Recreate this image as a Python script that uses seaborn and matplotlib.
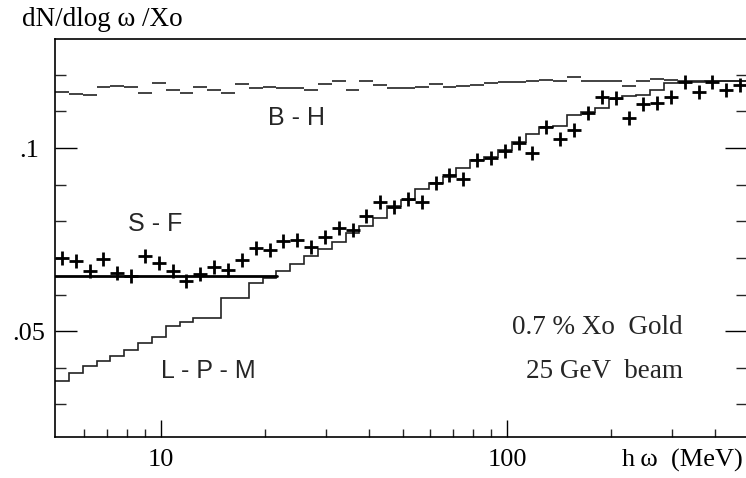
import numpy as np
import matplotlib
matplotlib.use("Agg")
import matplotlib.pyplot as plt
import matplotlib.ticker as mticker
import seaborn as sns

# ---------------- data ----------------
# 50 equal log-width photon-energy bins (MeV) spanning the axis
e_lo, e_hi, n_bins = 4.94, 494.0, 50

data_vals = [0.0699, 0.0691, 0.0664, 0.0696, 0.0658, 0.0651, 0.0705, 0.0687, 0.0665, 0.0637,
             0.0655, 0.0676, 0.0667, 0.0694, 0.0726, 0.0721, 0.0747, 0.0749, 0.0729, 0.0758,
             0.0782, 0.0776, 0.0814, 0.0853, 0.0838, 0.0860, 0.0853, 0.0905, 0.0926, 0.0917,
             0.0968, 0.0972, 0.0993, 0.1014, 0.0987, 0.1058, 0.1025, 0.1049, 0.1096, 0.1140,
             0.1136, 0.1081, 0.1120, 0.1122, 0.1139, 0.1181, 0.1154, 0.1181, 0.1158, 0.1172]

lpm_vals = [0.0363, 0.0386, 0.0404, 0.0419, 0.0431, 0.0449, 0.0467, 0.0483, 0.0515, 0.0526,
            0.0537, 0.0537, 0.0590, 0.0590, 0.0632, 0.0645, 0.0664, 0.0683, 0.0705, 0.0724,
            0.0744, 0.0767, 0.0788, 0.0810, 0.0841, 0.0858, 0.0887, 0.0906, 0.0921, 0.0945,
            0.0967, 0.0976, 0.0995, 0.1017, 0.1038, 0.1058, 0.1060, 0.1090, 0.1099, 0.1110,
            0.1133, 0.1142, 0.1145, 0.1160, 0.1178, 0.1181, 0.1181, 0.1182, 0.1182, 0.1183]

bh_vals = [0.1154, 0.1149, 0.1146, 0.1166, 0.1169, 0.1166, 0.1151, 0.1178, 0.1160, 0.1151,
           0.1166, 0.1160, 0.1151, 0.1175, 0.1163, 0.1167, 0.1163, 0.1163, 0.1160, 0.1176,
           0.1184, 0.1160, 0.1184, 0.1172, 0.1163, 0.1163, 0.1167, 0.1175, 0.1166, 0.1169,
           0.1172, 0.1178, 0.1181, 0.1181, 0.1184, 0.1187, 0.1184, 0.1195, 0.1184, 0.1184,
           0.1184, 0.1169, 0.1184, 0.1188, 0.1187, 0.1184, 0.1184, 0.1184, 0.1184, 0.1184]

sf_energy = [4.94, 21.6]
sf_vals = [0.0652, 0.0652]

y_major = [0.05, 0.1]
y_major_labels = [".05", ".1"]
y_minor = [0.03, 0.04, 0.06, 0.07, 0.08, 0.09, 0.11, 0.12]
x_major = [10, 100]
x_major_labels = ["10", "100"]
x_minor = [6, 7, 8, 9, 20, 30, 40, 50, 60, 70, 80, 90, 200, 300, 400]

edges = np.geomspace(e_lo, e_hi, n_bins + 1)
centers = np.sqrt(edges[:-1] * edges[1:])

# ---------------- style ----------------
sns.set_theme(style="ticks")
plt.rcParams["font.family"] = ["Liberation Serif", "DejaVu Serif"]
plt.rcParams["axes.linewidth"] = 1.2

W, H = 746, 478
fig = plt.figure(figsize=(W / 100, H / 100), dpi=100)
ax = fig.add_axes([55 / W, (H - 437) / H, (747 - 55) / W, (437 - 39) / H])

# L-P-M step histogram
ax.stairs(lpm_vals, edges, color="#222222", linewidth=1.2, baseline=None)
# B-H histogram drawn as level segments only
ax.hlines(bh_vals, edges[:-1], edges[1:], color="#222222", linewidth=1.2)
# S-F constant line
sns.lineplot(x=sf_energy, y=sf_vals, ax=ax, color="black", linewidth=2.0)
# data crosses
sns.scatterplot(x=centers, y=data_vals, ax=ax, marker="+", s=115,
                color="black", linewidth=2.0, zorder=5)

ax.set_xscale("log")
ax.set_xlim(e_lo, e_hi)
ax.set_ylim(0.0211, 0.1298)

ax.xaxis.set_major_locator(mticker.FixedLocator(x_major))
ax.xaxis.set_major_formatter(mticker.FixedFormatter(x_major_labels))
ax.xaxis.set_minor_locator(mticker.FixedLocator(x_minor))
ax.xaxis.set_minor_formatter(mticker.NullFormatter())
ax.yaxis.set_major_locator(mticker.FixedLocator(y_major))
ax.yaxis.set_major_formatter(mticker.FixedFormatter(y_major_labels))
ax.yaxis.set_minor_locator(mticker.FixedLocator(y_minor))
ax.yaxis.set_minor_formatter(mticker.NullFormatter())

for s in ax.spines.values():
    s.set_color("black")
    s.set_linewidth(1.2)

ax.tick_params(axis="x", which="major", direction="in", length=12.5, width=1.0,
               pad=9, labelsize=19, colors="black", top=False)
ax.tick_params(axis="x", which="minor", direction="in", length=6, width=1.0, top=False)
ax.tick_params(axis="y", which="major", direction="in", length=16, width=1.0,
               pad=18.7, labelsize=19, colors="black", left=True, right=True)
ax.tick_params(axis="y", which="minor", direction="in", length=8, width=1.0,
               left=True, right=True)
for lab in ax.get_yticklabels():
    lab.set_horizontalalignment("center")

# axis labels
ax.set_xlabel("h\u2009ω  (MeV)", fontsize=19, color="black")
ax.xaxis.set_label_coords((743 - 55) / 692, -(460 - 437) / 398)
ax.xaxis.label.set_ha("right")
ax.xaxis.label.set_va("center")

ax.set_ylabel("dN/dlog ω /Xo", fontsize=19.5, color="black", rotation=0)
ax.yaxis.set_label_coords(-(55 - 22) / 692, (437 - 20) / 398)
ax.yaxis.label.set_ha("left")
ax.yaxis.label.set_va("center")

# annotations
sans = ["Liberation Sans", "DejaVu Sans"]
ax.text(24.6, 0.1083, "B - H", family=sans, fontsize=18, ha="center", va="center")
ax.text(9.61, 0.0794, "S - F", family=sans, fontsize=18, ha="center", va="center")
ax.text(13.7, 0.0390, "L - P - M", family=sans, fontsize=18, ha="center", va="center")
ax.text(322, 0.0510, "0.7 % Xo  Gold", fontsize=19.5, ha="right", va="center")
ax.text(322, 0.0390, "25 GeV  beam", fontsize=19.5, ha="right", va="center")

fig.savefig("out.png", dpi=100)
